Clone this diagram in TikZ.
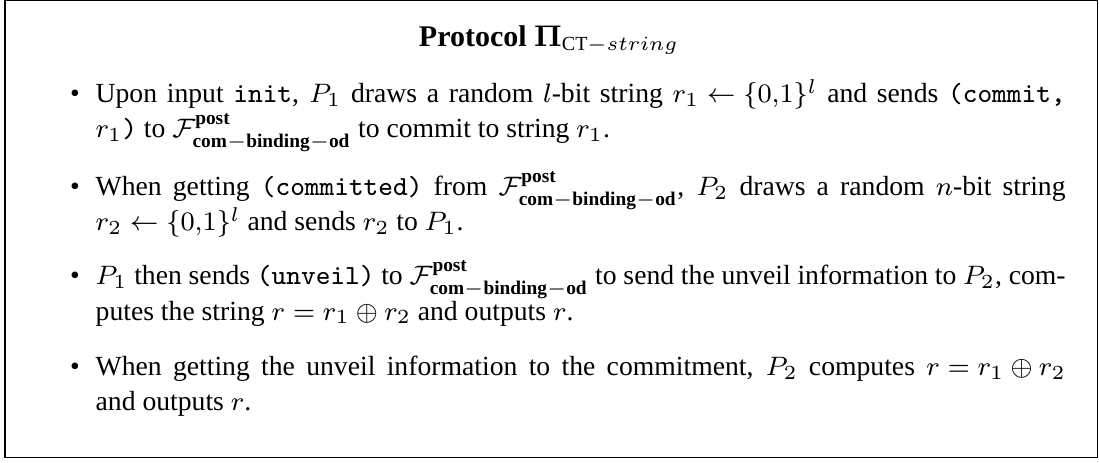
\documentclass[tikz,border=0pt]{standalone}
\usepackage{amsmath}
\usepackage{amssymb}
\usepackage{fontspec}
\setmainfont{Liberation Serif}
\usepackage{tikz}
\tikzstyle{frame}=[draw, line width=0.5pt, inner sep=0pt, minimum width=327.8pt, minimum height=137.1pt]
\tikzstyle{heading}=[anchor=base, inner sep=0pt, font=\fontsize{9}{10.5}\selectfont\bfseries]
\tikzstyle{stepitem}=[anchor=base west, inner sep=0pt, text width=291pt, align=justify, font=\fontsize{8.3}{10.5}\selectfont]
\tikzstyle{stepdot}=[anchor=base, inner sep=0pt, font=\fontsize{8.3}{10.5}\selectfont]
\newcommand{\Fpost}{\mathcal{F}^{\mathbf{post}}_{\mathbf{com-binding-od}}}
\lineskiplimit=-\maxdimen
\normallineskiplimit=-\maxdimen

\begin{document}
\begin{tikzpicture}[x=0.3pt, y=-0.3pt]
        \useasboundingbox (0, 0) rectangle (1099, 463);
        \node[frame] (box) at (551.25, 229) {};
        \node[heading] (title) at (549, 47) {Protocol $\boldsymbol{\Pi}_{\mathrm{CT}-string}$};
        \node[stepdot] (dot1) at (75, 103) {\textbullet};
        \node[stepdot] (dot2) at (75, 196) {\textbullet};
        \node[stepdot] (dot3) at (75, 285) {\textbullet};
        \node[stepdot] (dot4) at (75, 376) {\textbullet};
        \node[stepitem] (item1) at (95, 103) {Upon input \texttt{init}, $P_1$ draws a random $l$-bit string ${r_1 \leftarrow \{0{,}1\}^l}$ and sends \texttt{(commit,}\linebreak $r_1$\texttt{)} to $\Fpost$ to commit to string $r_1$.};
        \node[stepitem] (item2) at (95, 196) {When getting \texttt{(committed)} from $\Fpost$, $P_2$ draws a random $n$-bit string\linebreak ${r_2 \leftarrow \{0{,}1\}^l}$ and sends $r_2$ to $P_1$.};
        \node[stepitem] (item3) at (95, 285) {$P_1$ then sends \texttt{(unveil)} to $\Fpost$ to send the unveil information to $P_2$, com-\linebreak putes the string ${r = r_1 \oplus r_2}$ and outputs $r$.};
        \node[stepitem] (item4) at (95, 376) {When getting the unveil information to the commitment, $P_2$ computes ${r = r_1 \oplus r_2}$\linebreak and outputs $r$.};
    \end{tikzpicture}
\end{document}
